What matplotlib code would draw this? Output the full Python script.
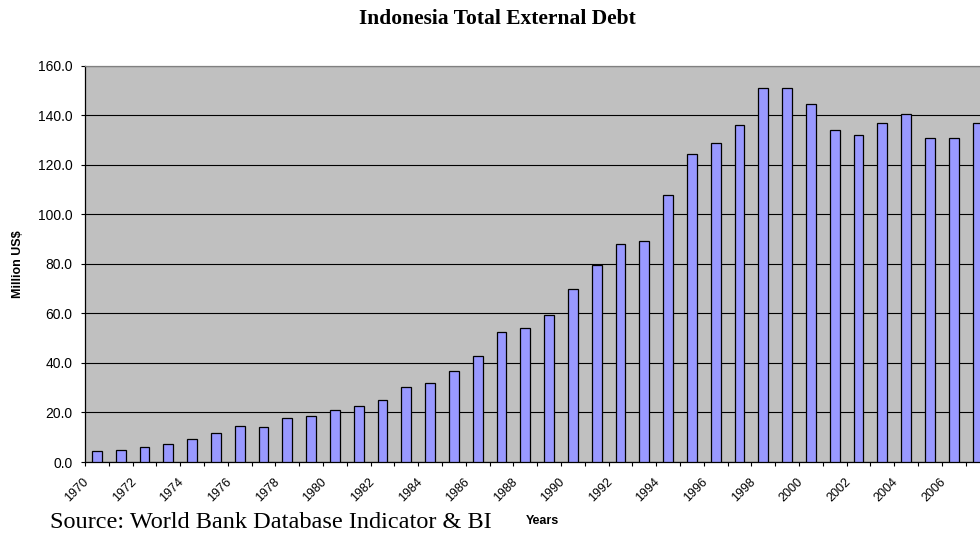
import numpy as np
import matplotlib.pyplot as plt
import matplotlib.transforms as mtransforms

years = list(range(1970, 2008))
debt = [4.4, 5.0, 5.9, 7.3, 9.2, 11.6, 14.5, 14.0, 17.9, 18.6,
        20.9, 22.8, 25.1, 30.2, 32.0, 36.6, 42.8, 52.4, 54.0, 59.3,
        69.9, 79.5, 88.0, 89.2, 107.7, 124.3, 128.8, 136.0, 151.1, 151.1,
        144.4, 134.1, 132.1, 136.8, 140.5, 130.9, 130.9, 136.8]
yticks = [0, 20, 40, 60, 80, 100, 120, 140, 160]

plt.rcParams.update(
    {
        "font.family": ["Liberation Sans", "DejaVu Sans"],
        "font.size": 9,
    }
)

W, H = 980, 534
fig = plt.figure(figsize=(W / 100, H / 100), dpi=100)

# plot area in pixels: left 85, top 65.7, bottom 462, 23.8 px per year
left, top, bottom = 85, 65.7, 462
step = 23.8
n = len(years)
ax = fig.add_axes([left / W, 1 - bottom / H, n * step / W, (bottom - top) / H])

x = np.arange(n)
ax.bar(x, debt, width=0.42, color="#9999FF", edgecolor="black", linewidth=0.9, zorder=3)

ax.set_facecolor("#C0C0C0")
ax.set_xlim(-0.5, n - 0.5)
ax.set_ylim(0, 160)
ax.set_yticks(yticks)
ax.set_yticklabels([f"{v:.1f}" for v in yticks])
ax.yaxis.grid(True, color="black", linewidth=0.8, zorder=1)
ax.set_axisbelow(True)

# tick marks at category boundaries, labels every second year
bounds = np.arange(n + 1) - 0.5
ax.set_xticks(bounds)
labels = [str(y) if (y - 1970) % 2 == 0 else "" for y in years] + [""]
ax.set_xticklabels(labels, rotation=45, ha="right", va="center", rotation_mode="anchor")
ax.tick_params(axis="x", direction="out", length=3, width=0.8, pad=10, labelsize=9)
ax.tick_params(axis="y", direction="out", length=3, width=0.8, pad=6, labelsize=10)
shift = mtransforms.ScaledTranslation(2 / 100, 0, fig.dpi_scale_trans)
for lab in ax.get_xticklabels():
    lab.set_transform(lab.get_transform() + shift)

for s in ["left", "bottom"]:
    ax.spines[s].set_color("black")
    ax.spines[s].set_linewidth(0.9)
ax.spines["top"].set_color("#808080")
ax.spines["top"].set_linewidth(0.9)
ax.spines["right"].set_visible(False)

fig.text(497 / W, 1 - 18.5 / H, "Indonesia Total External Debt", ha="center", va="center",
         family="Liberation Serif", fontweight="bold", fontsize=15.5)
fig.text(18 / W, 1 - 264 / H, "Million US$", rotation=90, ha="center", va="center",
         fontweight="bold", fontsize=9)
fig.text(542 / W, 1 - 521 / H, "Years", ha="center", va="center", fontweight="bold", fontsize=9)
fig.text(50 / W, 1 - 528 / H, "Source: World Bank Database Indicator & BI", ha="left",
         va="baseline", family="Liberation Serif", fontsize=17.5)

fig.savefig("out.png", dpi=100)
